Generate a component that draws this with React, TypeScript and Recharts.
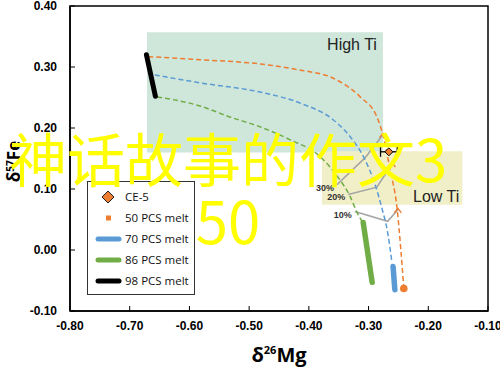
import React from 'react';
import {
  ComposedChart,
  Line,
  Scatter,
  XAxis,
  YAxis,
  ReferenceArea,
  ErrorBar,
  Legend
} from 'recharts';

const ORANGE = '#ed7d31';
const BLUE = '#5b9bd5';
const GREEN = '#70ad47';
const GREY = '#a5a5a5';

const xTicks = [-0.8, -0.7, -0.6, -0.5, -0.4, -0.3, -0.2, -0.1];
const yTicks = [-0.1, 0, 0.1, 0.2, 0.3, 0.4];

// dashed melting paths (d26Mg, d57Fe)
const path50 = [
  { x: -0.669, y: 0.317 }, { x: -0.582, y: 0.312 }, { x: -0.482, y: 0.305 },
  { x: -0.415, y: 0.295 }, { x: -0.36, y: 0.282 }, { x: -0.314, y: 0.251 },
  { x: -0.286, y: 0.218 }, { x: -0.276, y: 0.189 }, { x: -0.264, y: 0.132 },
  { x: -0.252, y: 0.066 }, { x: -0.246, y: 0.001 }, { x: -0.241, y: -0.063 }
];
const path70 = [
  { x: -0.658, y: 0.287 }, { x: -0.582, y: 0.274 }, { x: -0.482, y: 0.259 },
  { x: -0.415, y: 0.241 }, { x: -0.36, y: 0.214 }, { x: -0.331, y: 0.186 },
  { x: -0.306, y: 0.148 }, { x: -0.289, y: 0.107 }, { x: -0.277, y: 0.066 },
  { x: -0.269, y: 0.034 }, { x: -0.261, y: -0.019 }
];
const path86 = [
  { x: -0.654, y: 0.251 }, { x: -0.582, y: 0.236 }, { x: -0.532, y: 0.218 },
  { x: -0.482, y: 0.202 }, { x: -0.432, y: 0.181 }, { x: -0.381, y: 0.153 },
  { x: -0.351, y: 0.119 }, { x: -0.331, y: 0.088 }, { x: -0.319, y: 0.061 },
  { x: -0.311, y: 0.047 }
];

// melt compositions (thick segments)
const melt70 = [{ x: -0.259, y: -0.027 }, { x: -0.256, y: -0.065 }];
const melt86 = [{ x: -0.309, y: 0.045 }, { x: -0.294, y: -0.053 }];
const melt98 = [{ x: -0.672, y: 0.32 }, { x: -0.657, y: 0.252 }];
const melt50 = [{ x: -0.241, y: -0.063 }];

// tie lines at given melting degree
const tie30 = [{ x: -0.353, y: 0.107 }, { x: -0.306, y: 0.151 }, { x: -0.276, y: 0.189 }];
const tie20 = [{ x: -0.334, y: 0.091 }, { x: -0.286, y: 0.103 }, { x: -0.261, y: 0.141 }];
const tie10 = [{ x: -0.323, y: 0.063 }, { x: -0.268, y: 0.047 }, { x: -0.251, y: 0.066 }];
const tieLabels = [
  { x: -0.353, y: 0.107, t: '30%' },
  { x: -0.334, y: 0.091, t: '20%' },
  { x: -0.323, y: 0.063, t: '10%' }
];
const orangeMarks = [{ x: -0.276, y: 0.189 }, { x: -0.261, y: 0.141 }, { x: -0.251, y: 0.066 }];

const ce5 = [{ x: -0.266, y: 0.161, ex: 0.014 }];

const highTi = { x1: -0.671, x2: -0.276, y1: 0.16, y2: 0.357 };
const lowTi = { x1: -0.378, x2: -0.143, y1: 0.074, y2: 0.162 };

const legendItems = [
  { name: 'CE-5', kind: 'diamond', color: ORANGE },
  { name: '50 PCS melt', kind: 'square', color: ORANGE },
  { name: '70 PCS melt', kind: 'line', color: BLUE },
  { name: '86 PCS melt', kind: 'line', color: GREEN },
  { name: '98 PCS melt', kind: 'line', color: '#000' }
];

const fmt = (v: number) => v.toFixed(2);
const tickFont = { fill: '#000', fontSize: 12, fontWeight: 700, fontFamily: 'Liberation Sans, Arial, sans-serif' };

const XTitle = ({ viewBox }: any) => (
  <text
    x={viewBox.x + viewBox.width / 2}
    y={viewBox.y + 51}
    textAnchor="middle"
    fontFamily="Open Sans, sans-serif"
    fontWeight={700}
    fontSize={20}
    fill="#000"
  >
    δ<tspan fontSize={11} dy={-8}>26</tspan>
    <tspan dy={8}>Mg</tspan>
  </text>
);

const YTitle = ({ viewBox }: any) => {
  const cx = 20;
  const cy = viewBox.y + viewBox.height / 2 + 3;
  return (
    <text
      x={cx}
      y={cy}
      transform={`rotate(-90 ${cx} ${cy})`}
      textAnchor="middle"
      fontFamily="Open Sans, sans-serif"
      fontWeight={700}
      fontSize={17}
      fill="#000"
    >
      δ<tspan fontSize={10} dy={-6}>57</tspan>
      <tspan dy={6}>Fe</tspan>
    </text>
  );
};

const LegendBox = () => (
  <div
    style={{
      border: '1px solid #333',
      background: '#fff',
      width: 106,
      padding: '4px 0 3px 0',
      fontFamily: 'Open Sans, sans-serif',
      fontSize: 11.5,
      color: '#111'
    }}
  >
    {legendItems.map((it) => (
      <div key={it.name} style={{ display: 'flex', alignItems: 'center', height: 21 }}>
        <svg width={36} height={12} style={{ flex: 'none' }}>
          {it.kind === 'diamond' && (
            <polygon points="20,0 26,6 20,12 14,6" fill={it.color} stroke="#222" strokeWidth={1} />
          )}
          {it.kind === 'square' && <rect x={18} y={3.5} width={5} height={5} fill={it.color} />}
          {it.kind === 'line' && (
            <line x1={10} y1={6} x2={31} y2={6} stroke={it.color} strokeWidth={5} strokeLinecap="round" />
          )}
        </svg>
        <span style={{ marginLeft: 1 }}>{it.name}</span>
      </div>
    ))}
  </div>
);

const Caret = ({ cx, cy }: any) => (
  <polyline
    points={`${cx - 3.5},${cy + 3} ${cx},${cy - 1.5} ${cx + 3.5},${cy + 3}`}
    fill="none"
    stroke={ORANGE}
    strokeWidth={1.3}
  />
);

const Diamond = ({ cx, cy }: any) => (
  <polygon
    points={`${cx},${cy - 4} ${cx + 4},${cy} ${cx},${cy + 4} ${cx - 4},${cy}`}
    fill={ORANGE}
    stroke="#000"
    strokeWidth={1}
  />
);

const Dot = ({ cx, cy }: any) => <circle cx={cx} cy={cy} r={3.8} fill={ORANGE} />;

const PctLabel = ({ cx, cy, payload }: any) => (
  <text
    x={cx - 3}
    y={cy + 6}
    textAnchor="end"
    fontSize={9}
    fontWeight={700}
    fontFamily="Liberation Sans, Arial, sans-serif"
    fill="#333"
  >
    {payload.t}
  </text>
);

const dashed = (key: string, data: any[], color: string) => (
  <Line
    key={key}
    data={data}
    dataKey="y"
    type="monotone"
    stroke={color}
    strokeWidth={1.5}
    strokeDasharray="5 3"
    dot={false}
    activeDot={false}
    isAnimationActive={false}
    legendType="none"
  />
);

const thick = (key: string, data: any[], color: string, w: number) => (
  <Line
    key={key}
    data={data}
    dataKey="y"
    type="linear"
    stroke={color}
    strokeWidth={w}
    strokeLinecap="round"
    dot={false}
    activeDot={false}
    isAnimationActive={false}
    legendType="none"
  />
);

const tie = (key: string, data: any[]) => (
  <Line
    key={key}
    data={data}
    dataKey="y"
    type="linear"
    stroke={GREY}
    strokeWidth={1.6}
    dot={false}
    activeDot={false}
    isAnimationActive={false}
    legendType="none"
  />
);

export default function App() {
  return (
    <div style={{ position: 'absolute', left: 0, top: 0, width: 500, height: 368, background: '#fff', overflow: 'hidden' }}>
      <ComposedChart width={500} height={368} margin={{ top: 6, right: 12, left: 0, bottom: 0 }}>
        <XAxis
          type="number"
          dataKey="x"
          domain={[-0.8, -0.1]}
          ticks={xTicks}
          interval={0}
          allowDataOverflow
          tickFormatter={fmt}
          tickSize={-5}
          tickMargin={15}
          height={57}
          axisLine={{ stroke: '#000', strokeWidth: 1.5 }}
          tickLine={{ stroke: '#000', strokeWidth: 1 }}
          tick={tickFont}
          label={{ content: XTitle }}
        />
        <YAxis
          type="number"
          dataKey="y"
          domain={[-0.1, 0.4]}
          ticks={yTicks}
          interval={0}
          allowDataOverflow
          tickFormatter={fmt}
          tickSize={-5}
          tickMargin={18}
          width={70}
          axisLine={{ stroke: '#000', strokeWidth: 1.5 }}
          tickLine={{ stroke: '#000', strokeWidth: 1 }}
          tick={tickFont}
          label={{ content: YTitle }}
        />
        <ReferenceArea
          {...highTi}
          fill="#cfe6da"
          fillOpacity={1}
          stroke="none"
          label={{ value: 'High Ti', position: 'insideTopRight', offset: 6, fill: '#222', fontSize: 16, fontFamily: 'Liberation Sans, Arial, sans-serif' }}
        />
        <ReferenceArea
          {...lowTi}
          fill="#f1efc8"
          fillOpacity={1}
          stroke="none"
          label={{ value: 'Low Ti', position: 'insideBottomRight', offset: 3, fill: '#222', fontSize: 16, fontFamily: 'Liberation Sans, Arial, sans-serif' }}
        />
        <ReferenceArea x1={-0.8} x2={-0.1} y1={-0.1} y2={0.4} fill="none" stroke="#000" strokeWidth={1.5} />

        {tie('t30', tie30)}
        {tie('t20', tie20)}
        {tie('t10', tie10)}

        {dashed('p50', path50, ORANGE)}
        {dashed('p70', path70, BLUE)}
        {dashed('p86', path86, GREEN)}

        {thick('m70', melt70, BLUE, 5.5)}
        {thick('m86', melt86, GREEN, 5.5)}
        {thick('m98', melt98, '#000', 5)}

        <Scatter data={orangeMarks} shape={Caret} isAnimationActive={false} legendType="none" />
        <Scatter data={melt50} shape={Dot} isAnimationActive={false} legendType="none" />
        <Scatter data={tieLabels} shape={PctLabel} isAnimationActive={false} legendType="none" />
        <Scatter data={ce5} shape={Diamond} isAnimationActive={false} legendType="none">
          <ErrorBar dataKey="ex" direction="x" width={5} stroke="#000" strokeWidth={1.3} />
        </Scatter>

        <Legend
          layout="vertical"
          align="center"
          verticalAlign="middle"
          content={LegendBox}
          wrapperStyle={{ left: 87, top: 181, width: 108, height: 'auto' }}
        />
      </ComposedChart>
      <div
        style={{
          position: 'absolute',
          left: 3,
          top: 126,
          width: 450,
          textAlign: 'center',
          fontFamily: '"Noto Sans CJK SC", sans-serif',
          fontSize: 58,
          lineHeight: '62px',
          color: '#ffff00',
          pointerEvents: 'none'
        }}
      >
        神话故事的作文3
        <br />
        50
      </div>
    </div>
  );
}
